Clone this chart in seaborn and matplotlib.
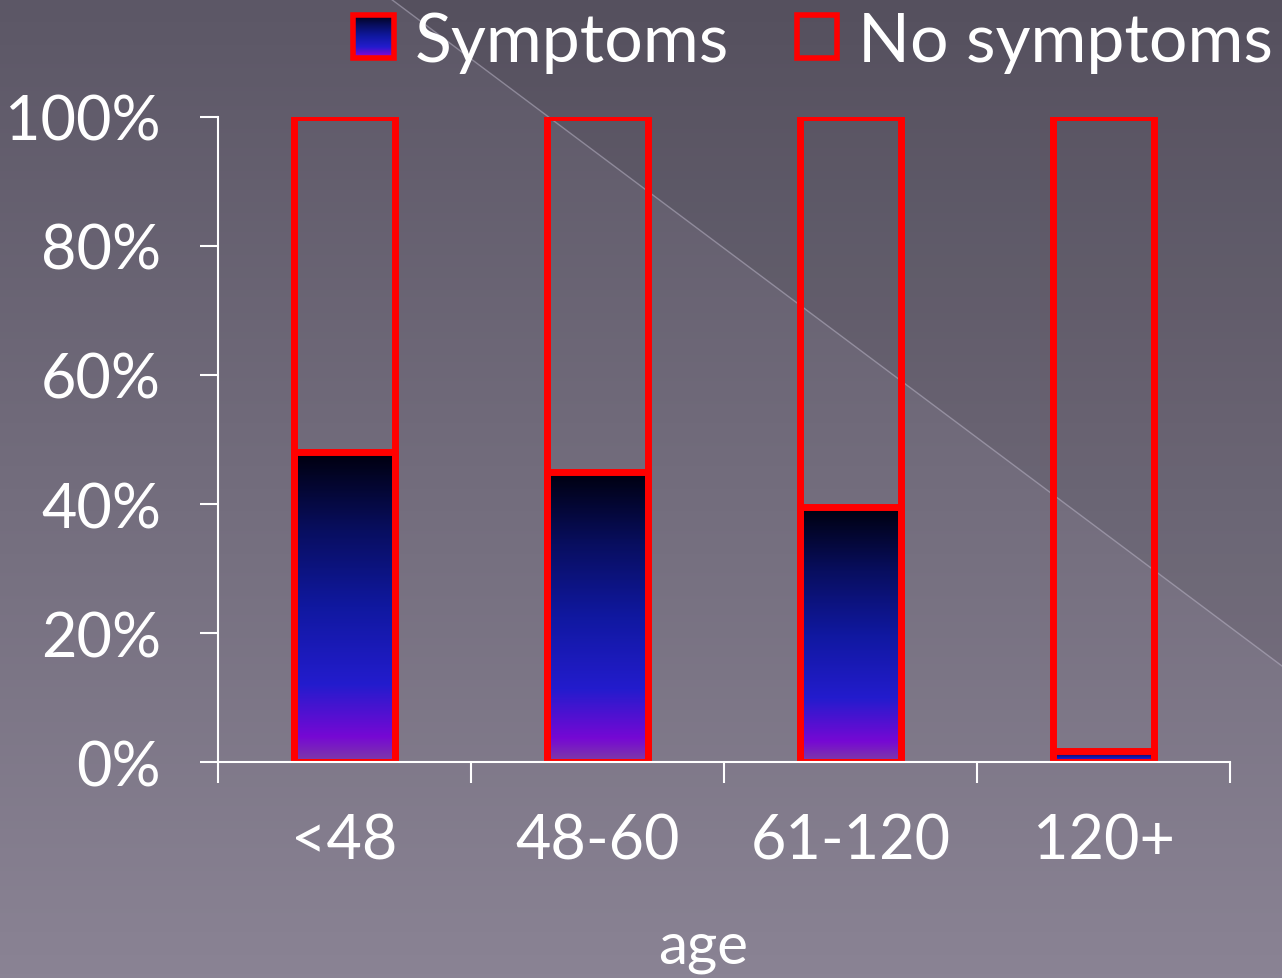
import numpy as np
import pandas as pd
import matplotlib
matplotlib.use('Agg')
import matplotlib.pyplot as plt
import seaborn as sns
from matplotlib.colors import LinearSegmentedColormap
from matplotlib.patches import Rectangle, Polygon

# data (share of each age group)
ages = ['<48', '48-60', '61-120', '120+']
symptoms = [0.48, 0.45, 0.395, 0.017]
total = [1.0, 1.0, 1.0, 1.0]
yticks = [0, 0.2, 0.4, 0.6, 0.8, 1.0]
ytick_labels = ['0%', '20%', '40%', '60%', '80%', '100%']

df = pd.DataFrame({'age': ages, 'symptoms': symptoms, 'total': total})

sns.set_style('ticks')
plt.rcParams['font.family'] = ['Lato', 'DejaVu Sans']

fig = plt.figure(figsize=(12.82, 9.79), dpi=100)

# background: vertical gradient + darker upper-right triangle
bg = fig.add_axes([0, 0, 1, 1], zorder=-10)
bg.axis('off')
bg_cmap = LinearSegmentedColormap.from_list(
    'bg', [(138/255, 131/255, 148/255), (92/255, 87/255, 102/255)])
bg.imshow(np.linspace(0, 1, 256).reshape(-1, 1), cmap=bg_cmap, origin='lower',
          extent=[0, 1, 0, 1], aspect='auto')
x0 = 391 / 1282
y1 = 1 - 667 / 979
bg.add_patch(Polygon([(x0, 1), (1, 1), (1, y1)], closed=True, fc='black',
                     alpha=0.07, lw=0))
bg.plot([x0, 1], [1, y1], color=(0.75, 0.73, 0.8), alpha=0.5, lw=1)
bg.set_xlim(0, 1)
bg.set_ylim(0, 1)

ax = fig.add_axes([0.170, 0.2206, 0.7894, 0.6589])
ax.patch.set_alpha(0)

bar_cmap = LinearSegmentedColormap.from_list('bars', [
    (0.00, (125/255, 60/255, 165/255)),
    (0.08, (118/255, 8/255, 212/255)),
    (0.25, (35/255, 28/255, 205/255)),
    (0.50, (16/255, 24/255, 160/255)),
    (0.75, (8/255, 14/255, 95/255)),
    (1.00, (0, 0, 14/255)),
])

sns.barplot(data=df, x='age', y='total', ax=ax, width=0.4,
            facecolor='none', edgecolor='red', linewidth=5)
sns.barplot(data=df, x='age', y='symptoms', ax=ax, width=0.4,
            facecolor='none', edgecolor='red', linewidth=5)

grad = np.linspace(0, 1, 256).reshape(-1, 1)
for p in ax.patches[len(ages):]:
    x, y = p.get_x(), p.get_y()
    w, h = p.get_width(), p.get_height()
    im = ax.imshow(grad, cmap=bar_cmap, origin='lower', aspect='auto',
                   extent=[x, x + w, y, y + h], zorder=0.9)
    im.set_clip_path(p)

ax.set_xlim(-0.5, 3.5)
ax.set_ylim(0, 1)
ax.set_yticks(yticks)
ax.set_yticklabels(ytick_labels)
ax.set_xticks(range(len(ages)))
ax.set_xticklabels(ages)
ax.set_xticks([-0.5, 0.5, 1.5, 2.5, 3.5], minor=True)
ax.tick_params(axis='y', direction='out', length=13, width=1.5, color='white',
               labelcolor='white', labelsize=44, pad=28)
ax.tick_params(axis='x', which='major', length=0, labelcolor='white',
               labelsize=44, pad=36)
ax.tick_params(axis='x', which='minor', direction='out', length=15,
               width=1.5, color='white')
ax.set_ylabel('')
ax.set_xlabel('age', fontsize=42, color='white')
ax.xaxis.set_label_coords((703 - 218) / 1012, -0.245)
sns.despine(ax=ax)
for s in ['left', 'bottom']:
    ax.spines[s].set_color('white')
    ax.spines[s].set_linewidth(1.5)

# legend
h_sym = Rectangle((0, 0), 1, 1, fc='none', ec='red', lw=4)
h_no = Rectangle((0, 0), 1, 1, fc='none', ec='red', lw=4)
leg = fig.legend([h_sym, h_no], ['Symptoms', 'No symptoms'], loc='upper right',
                 bbox_to_anchor=(1.014, 1.016), ncol=2, frameon=False,
                 fontsize=49, labelcolor='white', handlelength=0.6,
                 handleheight=0.6, handletextpad=0.3, columnspacing=1.0,
                 borderaxespad=0)

# gradient fill for the Symptoms legend box
fig.canvas.draw()
bb = leg.legend_handles[0].get_window_extent().transformed(fig.transFigure.inverted())
lax = fig.add_axes([bb.x0, bb.y0, bb.width, bb.height], zorder=4)
lax.axis('off')
lax.imshow(grad, cmap=bar_cmap, origin='lower', aspect='auto', extent=[0, 1, 0, 1])

fig.savefig('out.png', dpi=100)
